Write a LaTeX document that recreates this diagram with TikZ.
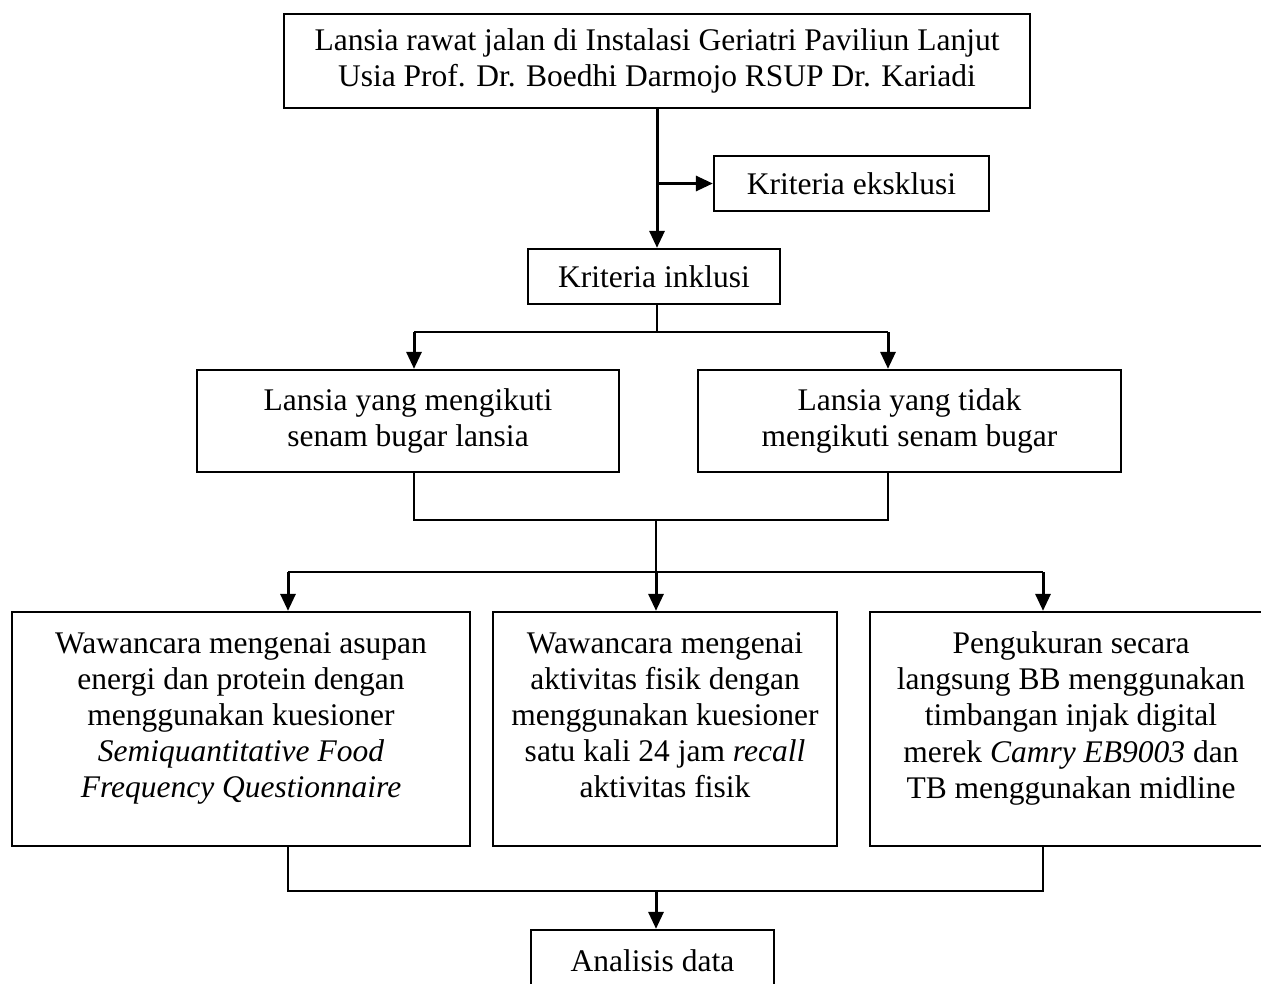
\documentclass[tikz,border=0pt]{standalone}
\usepackage{fontspec}
\setmainfont{Liberation Serif}
\usetikzlibrary{arrows.meta}
\begin{document}
\begin{tikzpicture}[x=1pt,y=-1pt,
  box/.style={draw,line width=2.3pt,rectangle,align=center,inner sep=0pt,
    font=\fontsize{31.5}{36.2}\selectfont},
  conn/.style={line width=2.1pt},
  arr/.style={line width=3pt,-{Triangle[length=17pt,width=15pt]}}]
\useasboundingbox (0,0) rectangle (1261,983);
\clip (0,0) rectangle (1261,983);
\node[box,minimum width=746pt,minimum height=94pt] (top) at (657,61)
  {Lansia rawat jalan di Instalasi Geriatri Paviliun Lanjut\\Usia Prof. Dr. Boedhi Darmojo RSUP Dr. Kariadi};
\node[box,minimum width=275pt,minimum height=55pt] (eks) at (851.5,183.5) {Kriteria eksklusi};
\node[box,minimum width=252pt,minimum height=55pt] (ink) at (654,276.5) {Kriteria inklusi};
\node[box,minimum width=422pt,minimum height=102pt] (ya) at (408,421)
  {Lansia yang mengikuti\\senam bugar lansia};
\node[box,minimum width=423pt,minimum height=102pt] (tidak) at (909.5,421)
  {Lansia yang tidak\\mengikuti senam bugar};
\node[box,minimum width=458pt,minimum height=234pt,text depth=28pt] (w1) at (241,729)
  {Wawancara mengenai asupan\\energi dan protein dengan\\menggunakan kuesioner\\\textit{Semiquantitative Food}\\\textit{Frequency Questionnaire}};
\node[box,minimum width=344pt,minimum height=234pt,text depth=28pt] (w2) at (665,729)
  {Wawancara mengenai\\aktivitas fisik dengan\\menggunakan kuesioner\\satu kali 24 jam \textit{recall}\\aktivitas fisik};
\node[box,minimum width=402pt,minimum height=234pt,text depth=28pt] (w3) at (1071,729)
  {Pengukuran secara\\langsung BB menggunakan\\timbangan injak digital\\merek \textit{Camry EB9003} dan\\TB menggunakan midline};
\node[box,minimum width=243pt,minimum height=62pt] (an) at (652.5,961) {Analisis data};
% top to inklusi
\draw[arr] (top.south) -- (top.south |- ink.north);
\coordinate (b1) at (top.south |- eks.west);
\draw[arr] (b1) -- (eks.west);
% inklusi to two groups
\coordinate (s1) at (top.south |- 0,332);
\coordinate (l1) at (414,332);
\coordinate (r1) at (888,332);
\draw[conn] (top.south |- ink.south) -- (s1);
\draw[conn] (l1) -- (r1);
\draw[arr] (l1) -- (l1 |- ya.north);
\draw[arr] (r1) -- (r1 |- tidak.north);
% join groups
\coordinate (l2) at (414,520);
\coordinate (r2) at (888,520);
\coordinate (m2) at (656,520);
\draw[conn] (l2 |- ya.south) -- (l2) -- (r2) -- (r2 |- tidak.south);
\coordinate (m3) at (656,572);
\coordinate (a3) at (288,572);
\coordinate (c3) at (1043,572);
\draw[conn] (m2) -- (m3);
\draw[conn] (a3) -- (c3);
\draw[arr] (a3) -- (a3 |- w1.north);
\draw[arr] (m3) -- (m3 |- w2.north);
\draw[arr] (c3) -- (c3 |- w3.north);
% join to analysis
\coordinate (a4) at (288,891);
\coordinate (c4) at (1043,891);
\coordinate (m4) at (656,891);
\draw[conn] (a4 |- w1.south) -- (a4) -- (c4) -- (c4 |- w3.south);
\draw[arr] (m4) -- (m4 |- an.north);
\end{tikzpicture}
\end{document}
